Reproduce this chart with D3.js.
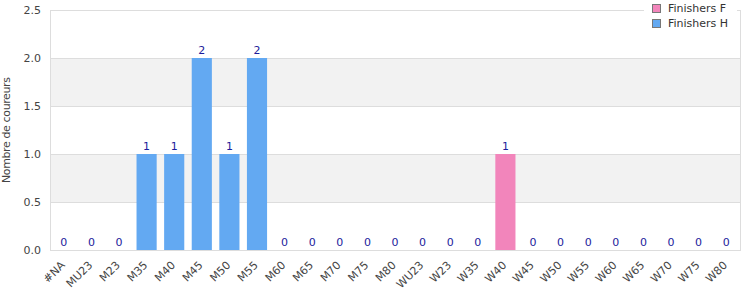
<!DOCTYPE html>
<html>
<head>
<meta charset="utf-8">
<script src="https://cdn.jsdelivr.net/npm/d3@7"></script>
<style>
  body { margin: 0; background: #fff; font-family: "DejaVu Sans", sans-serif; }
</style>
</head>
<body>
<div id="chart"></div>
<script>
// categories and values
const categories = ['#NA', 'MU23', 'M23', 'M35', 'M40', 'M45', 'M50', 'M55', 'M60', 'M65', 'M70', 'M75', 'M80',
  'WU23', 'W23', 'W35', 'W40', 'W45', 'W50', 'W55', 'W60', 'W65', 'W70', 'W75', 'W80'];
const finishersF = [0, 0, 0, 0, 0, 0, 0, 0, 0, 0, 0, 0, 0, 0, 0, 0, 1, 0, 0, 0, 0, 0, 0, 0, 0];
const finishersH = [0, 0, 0, 1, 1, 2, 1, 2, 0, 0, 0, 0, 0, 0, 0, 0, 0, 0, 0, 0, 0, 0, 0, 0, 0];
const yTicks = [0, 0.5, 1.0, 1.5, 2.0, 2.5];
const seriesNames = ['Finishers F', 'Finishers H'];
const colors = ['#f285bb', '#63a9f2'];

const width = 750, height = 300;
const margin = {top: 10, right: 10, bottom: 50, left: 50};
const w = width - margin.left - margin.right;
const h = height - margin.top - margin.bottom;

const svg = d3.select('#chart').append('svg')
  .attr('width', width)
  .attr('height', height)
  .style('font-family', '"DejaVu Sans", sans-serif');

const g = svg.append('g').attr('transform', `translate(${margin.left},${margin.top})`);

const x = d3.scaleBand().domain(categories).range([0, w]).paddingInner(0.27).paddingOuter(0.135);
const y = d3.scaleLinear().domain([0, 2.5]).range([h, 0]);

// alternating bands
for (let i = 0; i < yTicks.length - 1; i++) {
  if (i % 2 === 1) {
    g.append('rect')
      .attr('x', 0).attr('width', w)
      .attr('y', y(yTicks[i + 1]))
      .attr('height', y(yTicks[i]) - y(yTicks[i + 1]))
      .attr('fill', '#f2f2f2');
  }
}

// grid lines
g.selectAll('.grid').data(yTicks).enter().append('line')
  .attr('x1', 0).attr('x2', w)
  .attr('y1', d => Math.round(y(d)) + 0.5).attr('y2', d => Math.round(y(d)) + 0.5)
  .attr('stroke', '#dddddd');

// plot border
g.append('rect')
  .attr('x', 0.5).attr('y', 0.5).attr('width', w).attr('height', h)
  .attr('fill', 'none').attr('stroke', '#dddddd');

// stacked bars
const data = categories.map((c, i) => ({cat: c, F: finishersF[i], H: finishersH[i]}));
const stack = d3.stack().keys(['F', 'H'])(data);

g.selectAll('.layer').data(stack).enter().append('g')
  .attr('fill', (d, i) => colors[i])
  .selectAll('rect').data(d => d).enter().append('rect')
  .attr('x', d => x(d.data.cat))
  .attr('width', x.bandwidth())
  .attr('y', d => y(d[1]))
  .attr('height', d => y(d[0]) - y(d[1]));

// value labels
g.selectAll('.val').data(data).enter().append('text')
  .attr('x', d => x(d.cat) + x.bandwidth() / 2)
  .attr('y', d => y(d.F + d.H) - 4)
  .attr('text-anchor', 'middle')
  .attr('font-size', '11px')
  .attr('fill', '#1c1c9c')
  .text(d => d.F + d.H);

// y axis labels
g.selectAll('.ytick').data(yTicks).enter().append('text')
  .attr('x', -9)
  .attr('y', d => y(d) + 4)
  .attr('text-anchor', 'end')
  .attr('font-size', '11px')
  .attr('fill', '#444')
  .text(d => d.toFixed(1));

// x axis labels
g.selectAll('.xtick').data(categories).enter().append('text')
  .attr('transform', d => `translate(${x(d) + x.bandwidth() / 2 - 1},${h + 13}) rotate(-45)`)
  .attr('text-anchor', 'end')
  .attr('dy', '0.35em')
  .attr('font-size', '11px')
  .attr('fill', '#444')
  .text(d => d);

// y axis title
svg.append('text')
  .attr('transform', `translate(10,130) rotate(-90)`)
  .attr('text-anchor', 'middle')
  .attr('font-size', '11px')
  .attr('textLength', 106)
  .attr('lengthAdjust', 'spacing')
  .attr('fill', '#444')
  .text('Nombre de coureurs');

// legend
const legend = svg.append('g').attr('transform', 'translate(644,0)');
legend.append('rect')
  .attr('x', 0).attr('y', 0).attr('width', 93).attr('height', 32)
  .attr('fill', '#fff');
seriesNames.forEach((name, i) => {
  const row = legend.append('g').attr('transform', `translate(8,${4 + i * 15})`);
  row.append('rect')
    .attr('x', 0.5).attr('y', 0.5).attr('width', 8).attr('height', 8)
    .attr('fill', colors[i]).attr('stroke', '#777');
  row.append('text')
    .attr('x', 16).attr('y', 8)
    .attr('font-size', '11px')
    .attr('fill', '#333')
    .text(name);
});
</script>
</body>
</html>
